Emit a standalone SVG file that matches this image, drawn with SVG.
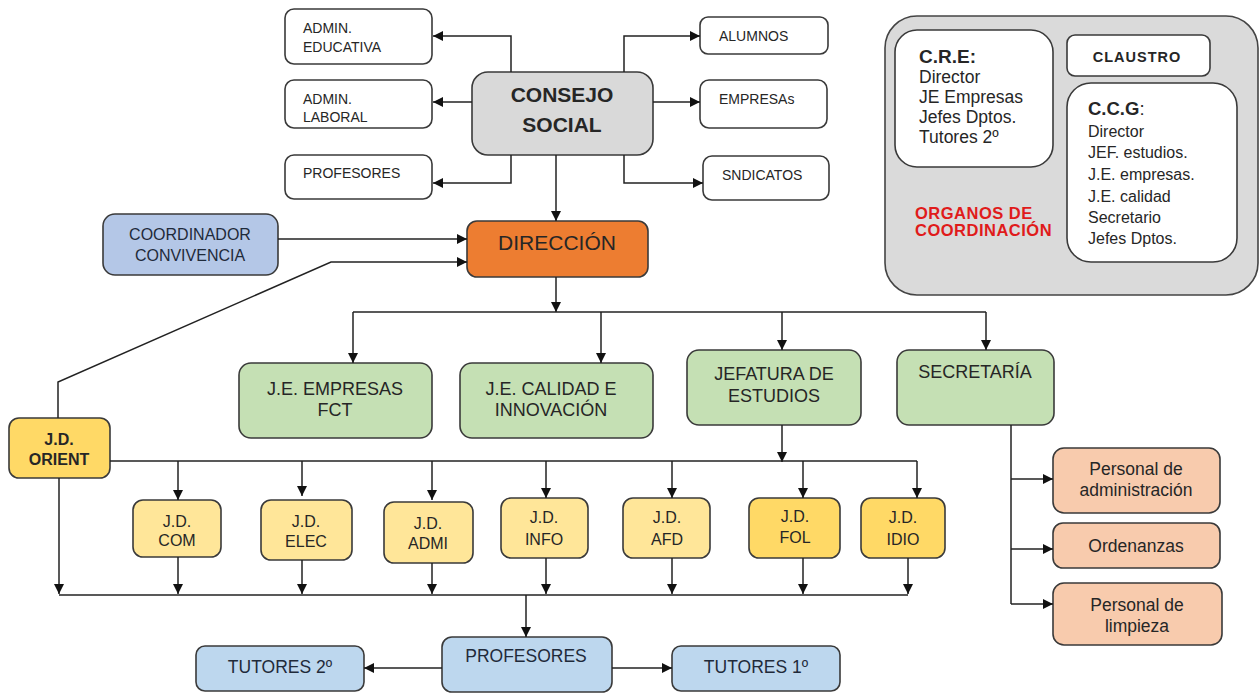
<svg xmlns="http://www.w3.org/2000/svg" width="1260" height="697" viewBox="0 0 1260 697">
<defs>
<marker id="arr" viewBox="0 0 10 10" refX="10" refY="5" markerWidth="10" markerHeight="10" markerUnits="userSpaceOnUse" orient="auto">
<path d="M0,0 L10,5 L0,10 z" fill="#111"/>
</marker>
</defs>
<style>
.box{stroke:#3a3a3a;stroke-width:1.6}
.w{fill:#ffffff}
.gray{fill:#d9d9d9}
.org{fill:#ed7d31}
.blue{fill:#b4c7e7}
.blue2{fill:#bdd7ee}
.green{fill:#c5e0b4}
.jd{fill:#ffe699}
.jd2{fill:#ffd966}
.sal{fill:#f8cbad}
text{font-family:"Liberation Sans",Arial,sans-serif;fill:#262626}
.s14{font-size:14px}
.c{text-anchor:middle}
.b{font-weight:bold}
.nv{fill:#1f2a3a}
.conn path{fill:none;stroke:#222;stroke-width:1.5}
.red{fill:#e01b1b;font-weight:bold;font-size:16.5px}
</style>

<g id="organos">
<rect x="885" y="16" width="373" height="279" rx="32" fill="#dadada" stroke="#444" stroke-width="1.6"/>
<rect x="895" y="30" width="158" height="137" rx="22" class="box w"/>
<text x="919" y="63" class="b" style="font-size:19px">C.R.E:</text>
<text x="919" y="83" style="font-size:17.5px">Director</text>
<text x="919" y="103" style="font-size:17.5px">JE Empresas</text>
<text x="919" y="123" style="font-size:17.5px">Jefes Dptos.</text>
<text x="919" y="143" style="font-size:17.5px">Tutores 2º</text>
<rect x="1067" y="35" width="143" height="41" rx="8" class="box w"/>
<text x="1137" y="62" class="c b" style="font-size:14.5px;letter-spacing:1px">CLAUSTRO</text>
<rect x="1067" y="83" width="170" height="179" rx="24" class="box w"/>
<text x="1088" y="115" style="font-size:18.5px"><tspan font-weight="bold">C.C.G</tspan>:</text>
<text x="1088" y="137" style="font-size:16px">Director</text>
<text x="1088" y="158" style="font-size:16px">JEF. estudios.</text>
<text x="1088" y="180" style="font-size:16px">J.E. empresas.</text>
<text x="1088" y="202" style="font-size:16px">J.E. calidad</text>
<text x="1088" y="223" style="font-size:16px">Secretario</text>
<text x="1088" y="244" style="font-size:16px">Jefes Dptos.</text>
<text x="915" y="219" class="red" style="letter-spacing:0.5px">ORGANOS DE</text>
<text x="915" y="236" class="red" style="letter-spacing:0.5px">COORDINACIÓN</text>
</g>

<g id="admin-educativa"><rect x="285" y="9" width="147" height="55" rx="9" class="box w"/>
<text x="303" y="33" class="s14">ADMIN.</text><text x="303" y="52" class="s14">EDUCATIVA</text></g>
<g id="admin-laboral"><rect x="285" y="80" width="147" height="48" rx="9" class="box w"/>
<text x="303" y="104" class="s14">ADMIN.</text><text x="303" y="122" class="s14">LABORAL</text></g>
<g id="profesores-top"><rect x="285" y="155" width="147" height="44" rx="9" class="box w"/>
<text x="303" y="178" class="s14">PROFESORES</text></g>
<g id="alumnos"><rect x="700" y="17" width="128" height="37" rx="8" class="box w"/>
<text x="719" y="41" class="s14">ALUMNOS</text></g>
<g id="empresas"><rect x="700" y="80" width="127" height="48" rx="9" class="box w"/>
<text x="719" y="104" class="s14">EMPRESAs</text></g>
<g id="sindicatos"><rect x="703" y="156" width="126" height="44" rx="9" class="box w"/>
<text x="722" y="180" class="s14">SNDICATOS</text></g>

<g id="consejo"><rect x="472" y="72" width="181" height="83" rx="16" class="box gray"/>
<text x="562" y="102" class="c b" style="font-size:21px">CONSEJO</text>
<text x="562" y="132" class="c b" style="font-size:21px">SOCIAL</text></g>

<g id="coordinador"><rect x="103" y="214" width="175" height="61" rx="12" class="box blue"/>
<text x="190" y="240" class="c nv" style="font-size:16px">COORDINADOR</text>
<text x="190" y="261" class="c nv" style="font-size:16px">CONVIVENCIA</text></g>

<g id="direccion"><rect x="467" y="221" width="181" height="56" rx="10" class="box org"/>
<text x="557" y="250" class="c" style="font-size:21px">DIRECCIÓN</text></g>

<g id="je-empresas"><rect x="239" y="363" width="193" height="75" rx="12" class="box green"/>
<text x="335" y="395" class="c" style="font-size:18px">J.E. EMPRESAS</text>
<text x="335" y="416" class="c" style="font-size:18px">FCT</text></g>
<g id="je-calidad"><rect x="460" y="363" width="193" height="75" rx="12" class="box green"/>
<text x="551" y="395" class="c" style="font-size:18px">J.E. CALIDAD E</text>
<text x="551" y="416" class="c" style="font-size:18px">INNOVACIÓN</text></g>
<g id="jefatura"><rect x="687" y="350" width="174" height="75" rx="12" class="box green"/>
<text x="774" y="380" class="c" style="font-size:18px">JEFATURA DE</text>
<text x="774" y="402" class="c" style="font-size:18px">ESTUDIOS</text></g>
<g id="secretaria"><rect x="897" y="350" width="157" height="75" rx="12" class="box green"/>
<text x="975" y="378" class="c" style="font-size:18px">SECRETARÍA</text></g>

<g id="jd-orient"><rect x="9" y="418" width="101" height="60" rx="10" class="box jd2"/>
<text x="59" y="445" class="c b" style="font-size:16px">J.D.</text>
<text x="59" y="465" class="c b" style="font-size:16px">ORIENT</text></g>
<g id="jd-com"><rect x="133" y="500" width="88" height="57" rx="10" class="box jd"/>
<text x="177" y="527" class="c" style="font-size:16px">J.D.</text><text x="177" y="546" class="c" style="font-size:16px">COM</text></g>
<g id="jd-elec"><rect x="261" y="500" width="91" height="60" rx="10" class="box jd"/>
<text x="306" y="527" class="c" style="font-size:16px">J.D.</text><text x="306" y="547" class="c" style="font-size:16px">ELEC</text></g>
<g id="jd-admi"><rect x="384" y="502" width="89" height="61" rx="10" class="box jd"/>
<text x="428" y="529" class="c" style="font-size:16px">J.D.</text><text x="428" y="549" class="c" style="font-size:16px">ADMI</text></g>
<g id="jd-info"><rect x="501" y="498" width="87" height="60" rx="10" class="box jd"/>
<text x="544" y="523" class="c" style="font-size:16px">J.D.</text><text x="544" y="545" class="c" style="font-size:16px">INFO</text></g>
<g id="jd-afd"><rect x="623" y="498" width="87" height="60" rx="10" class="box jd"/>
<text x="667" y="523" class="c" style="font-size:16px">J.D.</text><text x="667" y="545" class="c" style="font-size:16px">AFD</text></g>
<g id="jd-fol"><rect x="749" y="498" width="91" height="60" rx="10" class="box jd2"/>
<text x="795" y="522" class="c" style="font-size:16px">J.D.</text><text x="795" y="543" class="c" style="font-size:16px">FOL</text></g>
<g id="jd-idio"><rect x="861" y="498" width="84" height="60" rx="10" class="box jd2"/>
<text x="903" y="523" class="c" style="font-size:16px">J.D.</text><text x="903" y="545" class="c" style="font-size:16px">IDIO</text></g>

<g id="profesores"><rect x="442" y="637" width="170" height="55" rx="10" class="box blue2"/>
<text x="526" y="662" class="c nv" style="font-size:17.5px">PROFESORES</text></g>
<g id="tutores2"><rect x="196" y="646" width="168" height="45" rx="9" class="box blue2"/>
<text x="280" y="673" class="c nv" style="font-size:17.5px">TUTORES 2º</text></g>
<g id="tutores1"><rect x="672" y="646" width="168" height="45" rx="9" class="box blue2"/>
<text x="756" y="673" class="c nv" style="font-size:17.5px">TUTORES 1º</text></g>

<g id="personal-admin"><rect x="1053" y="448" width="167" height="65" rx="11" class="box sal"/>
<text x="1136" y="475" class="c" style="font-size:17.5px">Personal de</text>
<text x="1136" y="496" class="c" style="font-size:17.5px">administración</text></g>
<g id="ordenanzas"><rect x="1053" y="523" width="167" height="45" rx="10" class="box sal"/>
<text x="1136" y="552" class="c" style="font-size:17.5px">Ordenanzas</text></g>
<g id="personal-limpieza"><rect x="1053" y="583" width="169" height="62" rx="11" class="box sal"/>
<text x="1137" y="611" class="c" style="font-size:17.5px">Personal de</text>
<text x="1137" y="632" class="c" style="font-size:17.5px">limpieza</text></g>

<g id="connectors" class="conn">
<path d="M511,72 V36 H433" marker-end="url(#arr)"/>
<path d="M472,102 H433" marker-end="url(#arr)"/>
<path d="M511,155 V183 H433" marker-end="url(#arr)"/>
<path d="M624,72 V36 H700" marker-end="url(#arr)"/>
<path d="M653,102 H700" marker-end="url(#arr)"/>
<path d="M624,155 V183 H703" marker-end="url(#arr)"/>
<path d="M556,155 V221" marker-end="url(#arr)"/>
<path d="M278,239 H467" marker-end="url(#arr)"/>
<path d="M58,418 V382 L331,262 H467" marker-end="url(#arr)"/>
<path d="M556,277 V312" marker-end="url(#arr)"/>
<path d="M353,312 H986"/>
<path d="M353,312 V363" marker-end="url(#arr)"/>
<path d="M601,312 V363" marker-end="url(#arr)"/>
<path d="M782,312 V350" marker-end="url(#arr)"/>
<path d="M986,312 V350" marker-end="url(#arr)"/>
<path d="M782,425 V462" marker-end="url(#arr)"/>
<path d="M110,461 H917"/>
<path d="M178,461 V500" marker-end="url(#arr)"/>
<path d="M302,461 V496" marker-end="url(#arr)"/>
<path d="M432,461 V500" marker-end="url(#arr)"/>
<path d="M546,461 V498" marker-end="url(#arr)"/>
<path d="M672,461 V498" marker-end="url(#arr)"/>
<path d="M803,461 V498" marker-end="url(#arr)"/>
<path d="M917,461 V498" marker-end="url(#arr)"/>
<path d="M59,478 V594" marker-end="url(#arr)"/>
<path d="M178,557 V594" marker-end="url(#arr)"/>
<path d="M302,560 V594" marker-end="url(#arr)"/>
<path d="M432,563 V594" marker-end="url(#arr)"/>
<path d="M546,558 V594" marker-end="url(#arr)"/>
<path d="M672,558 V594" marker-end="url(#arr)"/>
<path d="M803,558 V594" marker-end="url(#arr)"/>
<path d="M908,558 V594" marker-end="url(#arr)"/>
<path d="M59,595 H908"/>
<path d="M526,595 V637" marker-end="url(#arr)"/>
<path d="M442,668 H364" marker-end="url(#arr)"/>
<path d="M612,668 H672" marker-end="url(#arr)"/>
<path d="M1011,425 V604"/>
<path d="M1011,479 H1053" marker-end="url(#arr)"/>
<path d="M1011,549 H1053" marker-end="url(#arr)"/>
<path d="M1011,604 H1053" marker-end="url(#arr)"/>
</g>
</svg>
